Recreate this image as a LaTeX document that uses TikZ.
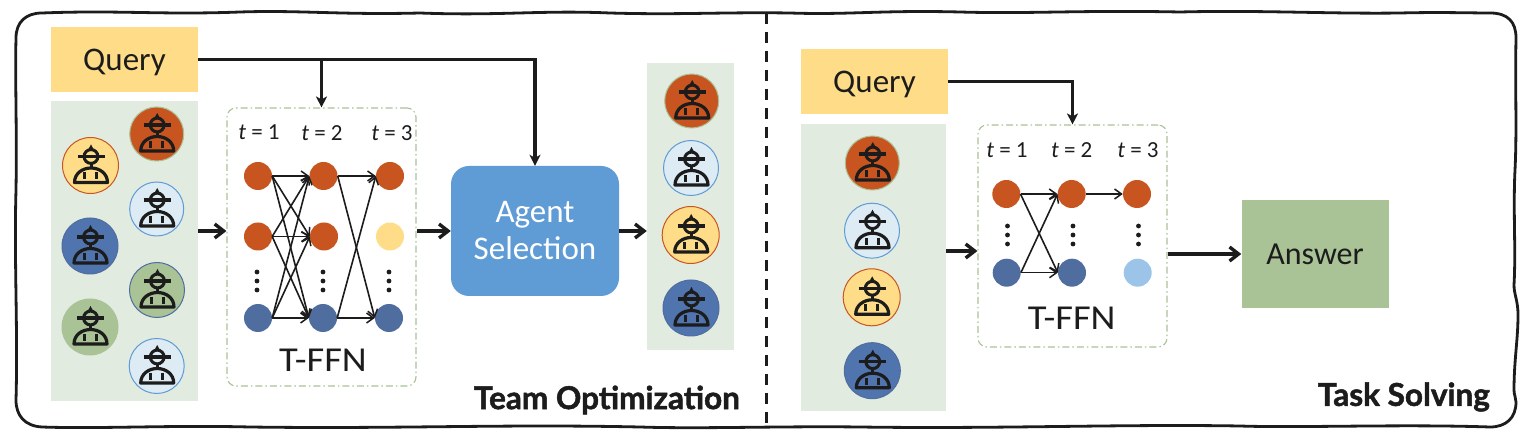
\documentclass[tikz,border=0pt]{standalone}
\usepackage{fontspec}
\setmainfont{Carlito}
\newfontfamily\headfont[BoldFeatures={FakeBold=1.6}]{Lato}
\newfontfamily\ffnfont[FakeStretch=1.1]{Carlito}
\usetikzlibrary{arrows.meta,calc,positioning}
\definecolor{cOrange}{HTML}{C8551F}
\definecolor{cYellow}{HTML}{FFDD88}
\definecolor{cBlue}{HTML}{4F74AE}
\definecolor{cNavy}{HTML}{4F6D9E}
\definecolor{cPale}{HTML}{DDEBF4}
\definecolor{cSky}{HTML}{5F9BD5}
\definecolor{cGreen}{HTML}{A9C296}
\definecolor{cPanel}{HTML}{E2EBE0}
\definecolor{cInk}{HTML}{1C1C1C}
\definecolor{cSoft}{HTML}{9CC4E8}
\tikzset{
  panel/.style={fill=cPanel,draw=none,inner sep=0pt,minimum width=#1},
  querybox/.style={fill=cYellow,draw=none,inner sep=0pt,minimum width=147pt,minimum height=65pt,text depth=0pt,font=\fontsize{33}{33}\selectfont,text=cInk},
  ffnbox/.style={draw=cGreen,line width=1.1pt,dash pattern=on 7pt off 3pt on 1.5pt off 3pt,rounded corners=9pt,inner sep=0pt,minimum width=189pt},
  tlabel/.style={font=\fontsize{23}{23}\selectfont,text=cInk,inner sep=0pt},
  ffnlabel/.style={font=\fontsize{35}{35}\ffnfont,text=cInk,inner sep=0pt},
  unit/.style={circle,draw=none,fill=#1,minimum size=28pt,inner sep=0pt},
  thin link/.style={draw=cInk,line width=1.6pt,-{Straight Barb[length=7pt,width=10pt,line width=1.5pt]}},
  feed/.style={draw=cInk,line width=3.4pt,-{Stealth[length=11pt,width=11pt,inset=3pt]}},
  flow/.style={draw=cInk,line width=3.4pt,-{Straight Barb[length=9pt,width=14pt,line width=3.4pt]}},
  agent disc/.style={circle,inner sep=0pt,minimum size=#1},
  caption/.style={font=\fontsize{31.5}{31.5}\selectfont\headfont\bfseries,text=cInk,anchor=east,inner sep=0pt},
  pics/person/.style={code={
    \draw[cInk,line width=3.2pt,line cap=round,line join=round]
      (-16,17) -- (17,17) .. controls (17,8) and (9,2.5) .. (.5,2.5) .. controls (-8,2.5) and (-16,8) .. (-16,17) -- cycle;
    \draw[cInk,line width=3pt] (.5,-9) circle (6.9);
    \draw[cInk,line width=3.2pt] (-13,-9) -- (14,-9);
    \fill[cInk] (-2.8,-15) -- (.5,-21) -- (3.8,-15) -- cycle;
    \draw[cInk,line width=3pt] (.5,-3) -- (.5,3);
    \draw[cInk,line width=3pt] (-6,7) -- (-6,14) (6,7) -- (6,14);
  }},
  pics/vdotset/.style={code={
    \fill[cInk] (0,-9) circle (2.4) (0,0) circle (2.4) (0,9) circle (2.4);
  }},
}
\begin{document}
\begin{tikzpicture}[x=1pt,y=-1pt]
\useasboundingbox (0,0) rectangle (1529,435);
% outer frame
\draw[cInk,line width=2.8pt,line join=round]
  (42,13) .. controls (120,10) and (160,15) .. (240,12)
  .. controls (300,10) and (340,15) .. (420,13)
  .. controls (500,16) and (540,10) .. (610,13)
  .. controls (680,15) and (720,12) .. (790,13)
  .. controls (850,15) and (880,10) .. (960,12)
  .. controls (1030,14) and (1080,10) .. (1180,12)
  .. controls (1260,10) and (1330,14) .. (1400,13)
  .. controls (1440,12) and (1470,13) .. (1490,13)
  .. controls (1508,13) and (1516,22) .. (1516,38)
  .. controls (1515,90) and (1517,130) .. (1515,170)
  .. controls (1513,210) and (1516,250) .. (1514,285)
  .. controls (1514,295) and (1518,300) .. (1518,315)
  .. controls (1518,340) and (1514,360) .. (1514,390)
  .. controls (1514,395) and (1516,398) .. (1516,402)
  .. controls (1516,418) and (1506,427) .. (1490,427)
  .. controls (1400,424) and (1300,428) .. (1240,426)
  .. controls (1120,424) and (1000,429) .. (860,427)
  .. controls (780,426) and (700,429) .. (640,427)
  .. controls (500,424) and (400,429) .. (250,427)
  .. controls (170,425) and (100,429) .. (42,427)
  .. controls (25,426) and (16,416) .. (16,400)
  .. controls (18,330) and (14,260) .. (16,190)
  .. controls (17,130) and (15,80) .. (16,38)
  .. controls (16,22) and (26,13) .. (42,13) -- cycle;
\coordinate (divTop) at (766.5,13);
\coordinate (divBot) at (766.5,427);
\draw[cInk,line width=2.8pt,dash pattern=on 11pt off 8pt] (divTop) -- (divBot);

% ---------- left part
\node[querybox] (qL) at (124.5,59.5) {Query};
\node[panel=147pt,minimum height=300pt] (panL) at (124.5,251) {};
\node[ffnbox,minimum height=278pt] (ffnL) at (321.5,247) {};
\node[rectangle,fill=cSky,rounded corners=18pt,minimum width=168pt,minimum height=130pt,inner sep=0pt,align=center,text=white,font=\fontsize{33}{37}\selectfont] (agent) at (535,231) {Agent\\Selection};
\node[panel=87pt,minimum height=287pt] (panR) at (690.5,206.5) {};
\coordinate (rowA) at (0,231);

\foreach \n/\x/\y/\f/\d/\s in {
  a/90.5/165.5/cYellow/cOrange/56pt,
  b/156.7/134/cOrange/cGreen/54pt,
  c/156.7/209/cPale/cSky/54pt,
  d/90/246/cBlue/cNavy/56pt,
  e/157/290/cGreen/cNavy/55pt,
  f/90/327/cGreen/cGreen/56pt,
  g/156.7/366/cPale/cSky/55pt,
  h/691.7/101/cOrange/cGreen/54pt,
  i/691/168/cPale/cSky/55pt,
  j/690.7/235/cYellow/cOrange/57pt,
  k/691/308/cBlue/cNavy/56pt}{
  \node[agent disc=\s,fill=\f,draw=\d,line width=1pt] (ag\n) at (\x,\y) {};
  \pic at (ag\n.center) {person};
}

\node[tlabel] (tLa) at (259,132) {\textit{t} = 1};
\node[tlabel] (tLb) at (322,133) {\textit{t} = 2};
\node[tlabel] (tLc) at (392,133) {\textit{t} = 3};

\node[unit=cOrange] (L11) at (258,176) {};
\node[unit=cOrange] (L12) at (323.5,176) {};
\node[unit=cOrange] (L13) at (390,176) {};
\node[unit=cOrange] (L21) at (258,236.5) {};
\node[unit=cOrange] (L22) at (324,236.5) {};
\node[unit=cYellow] (L23) at (390,236.5) {};
\node[unit=cNavy] (L31) at (258,318) {};
\node[unit=cNavy] (L32) at (323,318) {};
\node[unit=cNavy] (L33) at (389,318) {};
\pic at (257,281) {vdotset};
\pic at (323,281) {vdotset};
\pic at (389,281) {vdotset};
\node[ffnlabel] (tffnL) at (323,360) {T-FFN};

\foreach \s in {L11,L21,L31}
  \foreach \t in {L12,L22,L32}
    \draw[thin link] (\s.east) -- (\t.west);
\foreach \s in {L12,L32}
  \foreach \t in {L13,L33}
    \draw[thin link] (\s.east) -- (\t.west);

\draw[feed] (qL.east) -| (ffnL.north);
\draw[feed] (qL.east) -| (agent.north);
\draw[flow] (panL.east |- rowA) -- (ffnL.west |- rowA);
\draw[flow] (ffnL.east |- rowA) -- (agent.west);
\draw[flow] (agent.east) -- (panR.west |- rowA);

\node[caption] (capL) at (740,400) {Team Optimization};

% ---------- right part
\node[querybox] (qR) at (874.5,81.5) {Query};
\node[panel=145pt,minimum height=287pt] (panS) at (873.5,267.5) {};
\node[ffnbox,minimum height=222pt] (ffnR) at (1072.5,236) {};
\foreach \n/\x/\y/\f/\d/\s in {
  m/872.3/163/cOrange/cGreen/54pt,
  n/872/230.7/cPale/cSky/55pt,
  o/871.7/297.3/cYellow/cOrange/57pt,
  p/872.3/370.7/cBlue/cNavy/56pt}{
  \node[agent disc=\s,fill=\f,draw=\d,line width=1pt] (ah\n) at (\x,\y) {};
  \pic at (ah\n.center) {person};
}
\node[rectangle,fill=cGreen,minimum width=147pt,minimum height=108pt,inner sep=0pt,text=cInk,font=\fontsize{32}{32}\selectfont] (answer) at (1315,254) {Answer};
\coordinate (rowB) at (0,251);

\node[tlabel] (tRa) at (1007,150) {\textit{t} = 1};
\node[tlabel] (tRb) at (1071.7,150) {\textit{t} = 2};
\node[tlabel] (tRc) at (1138,150) {\textit{t} = 3};
\node[unit=cOrange] (R11) at (1006.3,194) {};
\node[unit=cOrange] (R12) at (1071.7,194) {};
\node[unit=cOrange] (R13) at (1137,194) {};
\node[unit=cNavy] (R31) at (1006.7,272.7) {};
\node[unit=cNavy] (R32) at (1072,272.7) {};
\node[unit=cSoft] (R33) at (1137.7,272.7) {};
\pic at (1007.5,235) {vdotset};
\pic at (1073,235) {vdotset};
\pic at (1138.5,235) {vdotset};
\node[ffnlabel] (tffnR) at (1071.7,318) {T-FFN};

\foreach \s in {R11,R31}
  \foreach \t in {R12,R32}
    \draw[thin link] (\s.east) -- (\t.west);
\draw[thin link] (R12.east) -- (R13.west);

\draw[feed] (qR.east) -| (ffnR.north);
\draw[flow] (panS.east |- rowB) -- (ffnR.west |- rowB);
\draw[flow] (ffnR.east |- answer.west) -- (answer.west);

\node[caption] (capR) at (1490,397) {Task Solving};
\end{tikzpicture}
\end{document}
